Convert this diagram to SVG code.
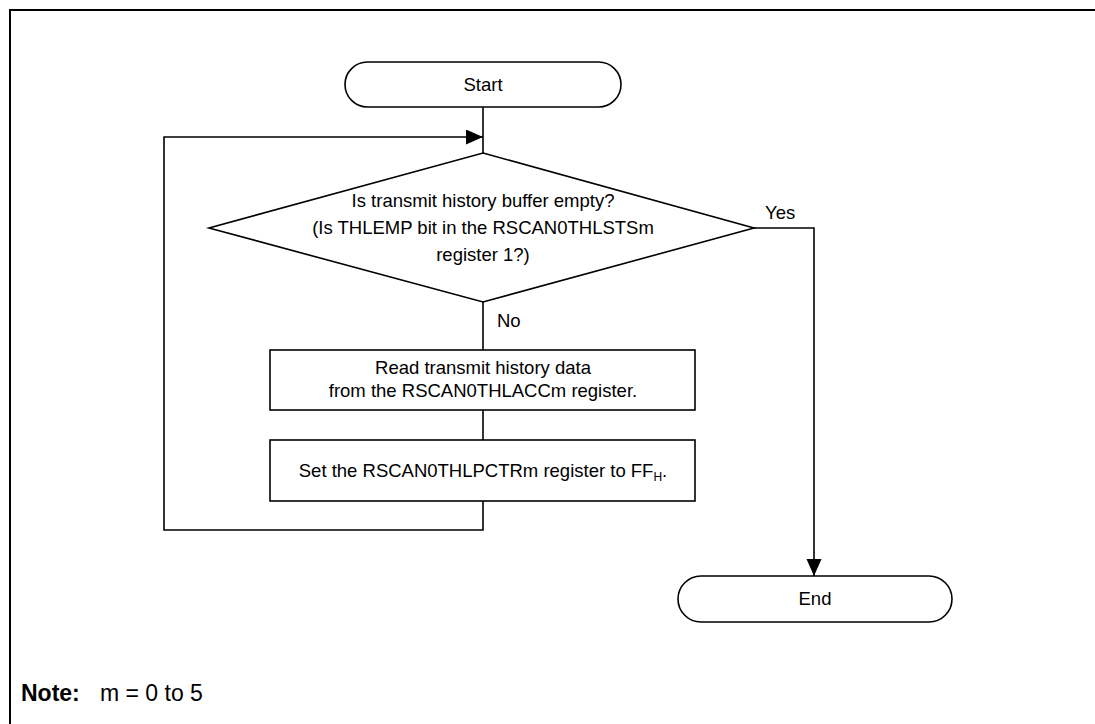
<svg xmlns="http://www.w3.org/2000/svg" width="1095" height="724" viewBox="0 0 1095 724">
<defs>
<style>
.s{fill:#fff;stroke:#000;stroke-width:1.6}
.c{fill:none;stroke:#000;stroke-width:1.6}
.t{font-family:"Liberation Sans",Arial,sans-serif;font-size:18.5px;fill:#000}
.m{text-anchor:middle}
.n{font-size:23px}
</style>
<marker id="ah" markerUnits="userSpaceOnUse" markerWidth="18" markerHeight="16" refX="17" refY="7.5" orient="auto">
<path d="M0,0 L17,7.5 L0,15 Z" fill="#000"/>
</marker>
</defs>
<rect width="1095" height="724" fill="#fff"/>
<path d="M10,724 V10 H1095" fill="none" stroke="#000" stroke-width="2"/>
<g id="connectors">
<path class="c" d="M483,107 V153"/>
<path class="c" d="M483,302 V350"/>
<path class="c" d="M483,410 V440"/>
<path class="c" d="M483,501 V530 H164 V137 H483" marker-end="url(#ah)"/>
<path class="c" d="M754,228 H814 V576" marker-end="url(#ah)"/>
<text class="t" x="765" y="219">Yes</text>
<text class="t" x="497" y="327">No</text>
</g>
<g id="start">
<rect class="s" x="345" y="62" width="276" height="45" rx="22.5" ry="22.5"/>
<text class="t m" x="483" y="91">Start</text>
</g>
<g id="decision">
<polygon class="s" points="483,153 754,228 483,302 209,228"/>
<text class="t m" x="483" y="207">Is transmit history buffer empty?</text>
<text class="t m" x="483" y="234">(Is THLEMP bit in the RSCAN0THLSTSm</text>
<text class="t m" x="483" y="261">register 1?)</text>
</g>
<g id="read">
<rect class="s" x="270" y="350" width="425" height="60"/>
<text class="t m" x="483" y="374">Read transmit history data</text>
<text class="t m" x="483" y="397">from the RSCAN0THLACCm register.</text>
</g>
<g id="set">
<rect class="s" x="270" y="440" width="425" height="61"/>
<text class="t m" x="483" y="477">Set the RSCAN0THLPCTRm register to FF<tspan font-size="12" dy="4">H</tspan><tspan dy="-4">.</tspan></text>
</g>
<g id="end">
<rect class="s" x="678" y="576" width="274" height="46" rx="23" ry="23"/>
<text class="t m" x="815" y="605">End</text>
</g>
<g id="note">
<text class="t n" x="21" y="701" font-weight="bold">Note:</text>
<text class="t n" x="100" y="701">m = 0 to 5</text>
</g>
</svg>
